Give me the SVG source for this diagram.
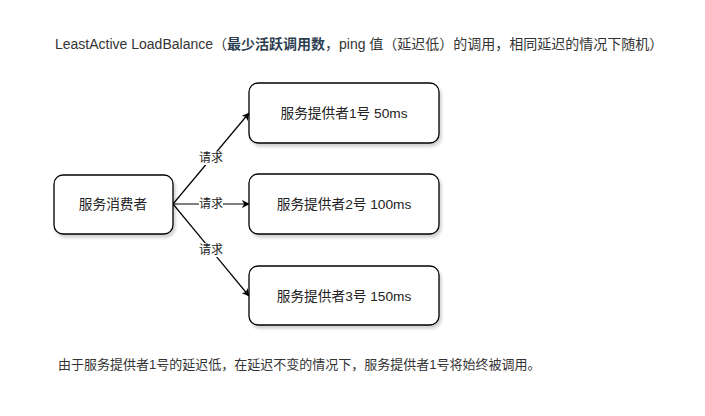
<svg xmlns="http://www.w3.org/2000/svg" width="705" height="416" viewBox="0 0 705 416">
<style>
.box{fill:#fff;stroke:#000;stroke-width:1.3;filter:url(#sh)}
.t{font-family:"Liberation Sans","Noto Sans CJK SC",sans-serif;font-size:13.7px;fill:#222;text-anchor:middle;dominant-baseline:central}
.lbl{font-family:"Liberation Sans","Noto Sans CJK SC",sans-serif;font-size:12px;fill:#222;text-anchor:middle;dominant-baseline:central}
.edge{stroke:#000;stroke-width:1.2;fill:none;marker-end:url(#arr)}
.cap{font-family:"Liberation Sans","Noto Sans CJK SC",sans-serif;fill:#333}
</style>
<defs>
<filter id="sh" x="-10%" y="-10%" width="130%" height="140%">
<feDropShadow dx="2" dy="3" stdDeviation="1.5" flood-color="#000" flood-opacity="0.18"/>
</filter>
<marker id="arr" viewBox="0 0 10 10" refX="9" refY="5" markerWidth="8" markerHeight="8" orient="auto" markerUnits="userSpaceOnUse">
<path d="M0,0 L10,5 L0,10 L3,5 z" fill="#000"/>
</marker>
</defs>
<rect width="705" height="416" fill="#fff"/>
<text class="cap" x="55" y="49" font-size="14">LeastActive LoadBalance（<tspan font-weight="bold" fill="#2c3e50">最少活跃调用数</tspan>，ping 值（延迟低）的调用，相同延迟的情况下随机）</text>
<g id="edges">
<line class="edge" x1="173" y1="204" x2="249" y2="113"/>
<line class="edge" x1="173" y1="204" x2="249" y2="204"/>
<line class="edge" x1="173" y1="204" x2="249" y2="296"/>
<rect x="199" y="151" width="24" height="14" fill="#fff"/>
<text class="lbl" x="211" y="158">请求</text>
<rect x="199" y="197" width="24" height="14" fill="#fff"/>
<text class="lbl" x="211" y="204">请求</text>
<rect x="199" y="243" width="24" height="14" fill="#fff"/>
<text class="lbl" x="211" y="250">请求</text>
</g>
<g id="consumer">
<rect class="box" x="54" y="175" width="119" height="59" rx="9"/>
<text class="t" x="113" y="204.5" font-size="14.5">服务消费者</text>
</g>
<g id="provider1">
<rect class="box" x="249" y="83" width="190" height="60" rx="9"/>
<text class="t" x="344" y="113">服务提供者1号 50ms</text>
</g>
<g id="provider2">
<rect class="box" x="249" y="174" width="190" height="60" rx="9"/>
<text class="t" x="344" y="204">服务提供者2号 100ms</text>
</g>
<g id="provider3">
<rect class="box" x="249" y="266" width="190" height="59" rx="9"/>
<text class="t" x="344" y="296">服务提供者3号 150ms</text>
</g>
<text class="cap" x="58" y="369" font-size="13" fill="#222">由于服务提供者1号的延迟低，在延迟不变的情况下，服务提供者1号将始终被调用。</text>
</svg>
